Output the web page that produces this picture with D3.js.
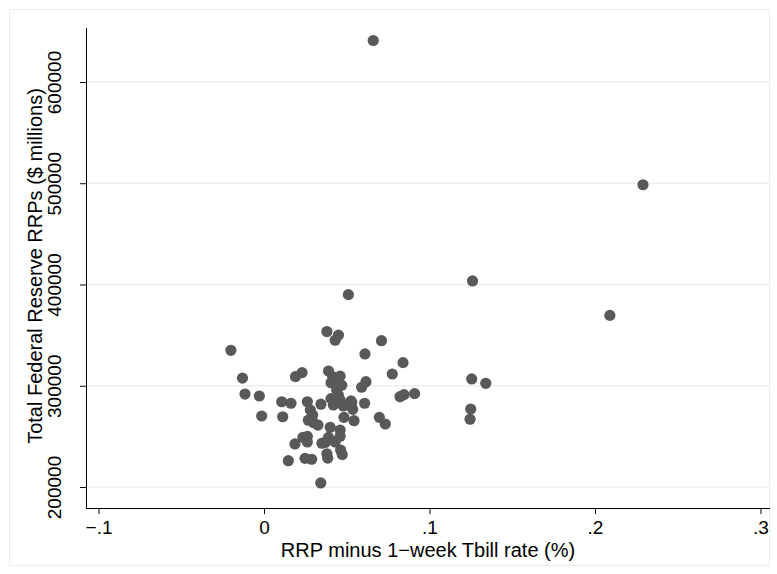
<!DOCTYPE html>
<html>
<head>
<meta charset="utf-8">
<script src="https://cdn.jsdelivr.net/npm/d3@7"></script>
<style>
  html, body { margin: 0; padding: 0; background: #fff; }
  svg { display: block; }
  text { font-family: "Liberation Sans", Arial, sans-serif; fill: #000; }
</style>
</head>
<body>
<svg id="chart" width="777" height="574"></svg>
<script>
// ---- data ----
const spread = [
  0.066, 0.229, 0.126, 0.051, 0.209, -0.020, 0.038, 0.045, 0.043, 0.071,
  0.061, 0.084, 0.0775, -0.013, 0.019, 0.023, 0.039, 0.0415, 0.046, 0.0445,
  0.047, 0.0405, 0.0439, 0.0449, 0.0405, 0.046, 0.0419, 0.0479, 0.053, 0.0526,
  0.0479, 0.0608, 0.059, 0.0616, 0.1255, 0.134, -0.0115, -0.0028, 0.0822, 0.0846,
  0.091, 0.0107, 0.0163, 0.0262, 0.0344, 0.0536, 0.0483, 0.0544, -0.0014, 0.0113,
  0.0697, 0.0733, 0.1249, 0.1245, 0.028, 0.0294, 0.0268, 0.030, 0.0326, 0.040,
  0.046, 0.046, 0.039, 0.037, 0.035, 0.043, 0.0235, 0.0262, 0.0262, 0.0187,
  0.0248, 0.0288, 0.0147, 0.038, 0.0385, 0.0463, 0.0473, 0.0343
];
const rrps = [
  641000, 498500, 403500, 390000, 369500, 335000, 353500, 350000, 345000, 344500,
  331400, 322800, 311600, 307500, 309000, 313000, 314500, 309000, 309500, 304000,
  300500, 303000, 296000, 291000, 287300, 286000, 281000, 281000, 283300, 285000,
  280000, 282700, 298500, 304000, 306700, 302400, 291800, 289900, 289200, 291200,
  292200, 284200, 282700, 284200, 281800, 276700, 268800, 265500, 270100, 269400,
  268800, 262200, 277000, 266900, 276000, 271000, 266000, 263500, 261200, 259000,
  256300, 250200, 249000, 244000, 243200, 244500, 249000, 250000, 244500, 242500,
  228300, 227400, 226000, 232800, 228500, 236500, 232000, 204000
];
const xTicks = [-0.1, 0, 0.1, 0.2, 0.3];
const xTickLabels = ["\u2212.1", "0", ".1", ".2", ".3"];
const yTicks = [200000, 300000, 400000, 500000, 600000];
const yTickLabels = ["200000", "300000", "400000", "500000", "600000"];
const xTitle = "RRP minus 1\u2212week Tbill rate (%)";
const yTitle = "Total Federal Reserve RRPs ($ millions)";

const points = spread.map((d, i) => ({ x: d, y: rrps[i] }));

// ---- layout ----
const plot = { left: 86, right: 770, top: 28, bottom: 508 };
const svg = d3.select("#chart");

// outer frame
svg.append("rect")
  .attr("x", 9.5).attr("y", 9.5).attr("width", 760).attr("height", 556)
  .attr("fill", "#fff").attr("stroke", "#e6eef0").attr("stroke-width", 1);

// scales (calibrated: 0 at 264px, 0.1 per 165.5px; 200000 at 487px, 100000 per 101.25px)
const x = d3.scaleLinear()
  .domain([(plot.left - 264) / 1655, (plot.right - 264) / 1655])
  .range([plot.left, plot.right]);
const y = d3.scaleLinear()
  .domain([200000 - (plot.bottom - 487) * 987.65, 200000 + (487 - plot.top) * 987.65])
  .range([plot.bottom, plot.top]);

// gridlines
svg.append("g").selectAll("line").data(yTicks).join("line")
  .attr("x1", plot.left).attr("x2", plot.right)
  .attr("y1", d => y(d)).attr("y2", d => y(d))
  .attr("stroke", "#e8f0f3").attr("stroke-width", 1.5);

// axes
const yAxis = d3.axisLeft(y).tickValues(yTicks).tickSize(6).tickPadding(4)
  .tickFormat((d, i) => yTickLabels[i]);
const xAxis = d3.axisBottom(x).tickValues(xTicks).tickSize(6).tickPadding(4)
  .tickFormat((d, i) => xTickLabels[i]);

const gy = svg.append("g").attr("transform", `translate(${plot.left},0)`).call(yAxis);
gy.select(".domain").attr("d", `M0.5,${plot.top}V${plot.bottom}`).attr("stroke", "#000");
gy.selectAll(".tick line").attr("stroke", "#000");
gy.selectAll(".tick text")
  .attr("font-size", 19)
  .attr("x", 0).attr("dy", 0)
  .attr("text-anchor", "middle")
  .attr("transform", "translate(-25,0) rotate(-90)");

const gx = svg.append("g").attr("transform", `translate(0,${plot.bottom})`).call(xAxis);
gx.select(".domain").attr("d", `M${plot.left},0.5H${plot.right}`).attr("stroke", "#000");
gx.selectAll(".tick line").attr("stroke", "#000");
gx.selectAll(".tick text").attr("font-size", 19).attr("dy", "0.85em");

// axis titles
svg.append("text")
  .attr("x", (plot.left + plot.right) / 2).attr("y", 557)
  .attr("text-anchor", "middle").attr("font-size", 20)
  .text(xTitle);
svg.append("text")
  .attr("transform", `translate(42,266) rotate(-90)`)
  .attr("text-anchor", "middle").attr("font-size", 20)
  .text(yTitle);

// points
svg.append("g").selectAll("circle").data(points).join("circle")
  .attr("cx", d => x(d.x)).attr("cy", d => y(d.y))
  .attr("r", 5.6).attr("fill", "#595959");
</script>
</body>
</html>
